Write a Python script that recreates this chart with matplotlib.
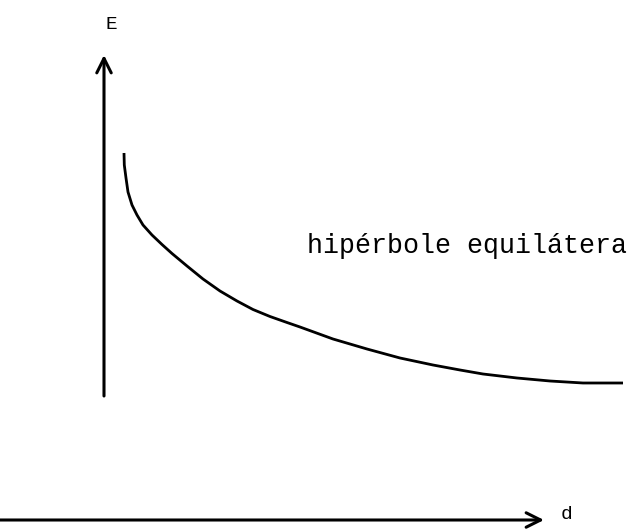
import matplotlib.pyplot as plt

# curve points (pixel coords, y down)
curve_x = [124, 124.3, 126, 128, 132, 137, 143, 152, 162, 172, 187, 203, 220, 237,
           253, 270, 287, 300, 333, 367, 400, 433, 460, 483, 517, 550, 583, 623]
curve_y = [153, 165, 178, 192, 205, 215, 225, 235, 244.5, 253.5, 266, 279, 291, 301,
           309.5, 316.5, 322.5, 327, 339, 349, 358, 365, 370, 374, 378, 381, 383, 383]

label_e = 'E'
label_d = 'd'
label_curve = 'hipérbole equilátera'


def main():
    fig = plt.figure(figsize=(6.28, 5.29), dpi=100)
    ax = fig.add_axes([0, 0, 1, 1])
    ax.set_xlim(0, 628)
    ax.set_ylim(529, 0)
    ax.axis('off')

    arrow = dict(arrowstyle='->', lw=2.2, color='black', mutation_scale=26,
                 shrinkA=0, shrinkB=0)
    # vertical axis (E)
    ax.annotate('', xy=(104, 55), xytext=(104, 396), arrowprops=arrow)
    # horizontal axis (d)
    ax.annotate('', xy=(544, 520), xytext=(0, 520), arrowprops=arrow)

    ax.plot(curve_x, curve_y, color='black', lw=2, solid_capstyle='butt',
            solid_joinstyle='round')

    font = dict(family='Liberation Mono', color='black')
    ax.text(111, 29, label_e, ha='center', va='baseline', fontsize=14, **font)
    ax.text(567, 519, label_d, ha='center', va='baseline', fontsize=14, **font)
    ax.text(307, 253, label_curve, ha='left', va='baseline', fontsize=19.2, **font)

    fig.savefig('out.png', dpi=100)


if __name__ == '__main__':
    main()
